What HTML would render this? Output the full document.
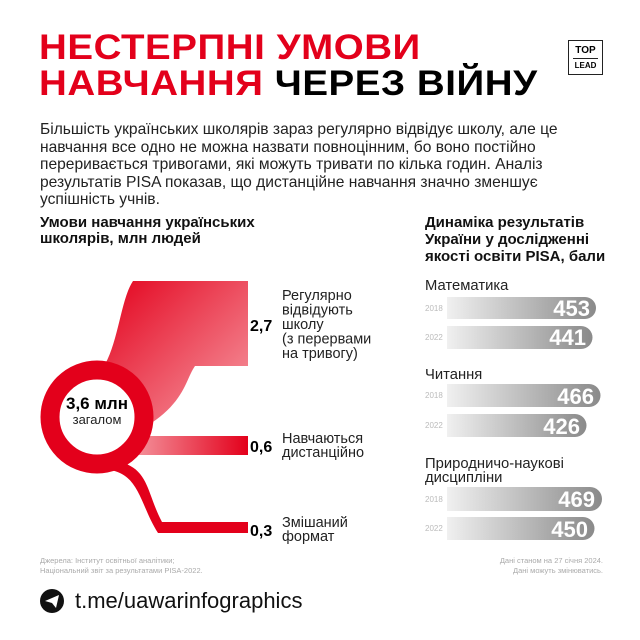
<!DOCTYPE html><html><head><meta charset="utf-8"><style>
body{margin:0;width:640px;height:640px;background:#fff;overflow:hidden;font-family:"Liberation Sans","DejaVu Sans",sans-serif;position:relative}
.a{position:absolute;white-space:nowrap}
</style></head><body>
<div class="a" style="left:39px;top:30px;font-size:35px;font-weight:900;line-height:36px;color:#e3001b;letter-spacing:0.5px;transform:scaleX(1.1);transform-origin:left">НЕСТЕРПНІ УМОВИ<br>НАВЧАННЯ <span style="color:#000">ЧЕРЕЗ ВІЙНУ</span></div>
<div class="a" style="left:568px;top:40px;width:33px;height:33px;border:1px solid #222;font-size:10px;font-weight:bold;text-align:center;line-height:13px">
<div style="margin-top:3px">TOP</div><div style="border-top:1px solid #222;margin:1px 4px 0;font-size:8px">LEAD</div></div>
<div class="a" style="left:40px;top:121px;font-size:15.6px;line-height:17.6px;color:#222">Більшість українських школярів зараз регулярно відвідує школу, але це<br>навчання все одно не можна назвати повноцінним, бо воно постійно<br>переривається тривогами, які можуть тривати по кілька годин. Аналіз<br>результатів PISA показав, що дистанційне навчання значно зменшує<br>успішність учнів.</div>
<div class="a" style="left:40px;top:215px;font-size:15px;font-weight:bold;line-height:15.5px;color:#111">Умови навчання українських<br>школярів, млн людей</div>
<div class="a" style="left:425px;top:214px;font-size:15px;font-weight:bold;line-height:17px;color:#111">Динаміка результатів<br>України у дослідженні<br>якості освіти PISA, бали</div>
<svg class="a" style="left:0;top:0" width="640" height="640">
<defs><linearGradient id="r" x1="0" y1="0" x2="1" y2="1"><stop offset="0" stop-color="#e3001b"/><stop offset="1" stop-color="#f7a0a8"/></linearGradient>
<linearGradient id="r2" x1="0" y1="0" x2="1" y2="0"><stop offset="0" stop-color="#f6a6ad"/><stop offset="1" stop-color="#e3001b"/></linearGradient>
<linearGradient id="g" x1="0" y1="0" x2="1" y2="0"><stop offset="0" stop-color="#f0f0f0"/><stop offset="1" stop-color="#8a8a8a"/></linearGradient></defs>
<path d="M100 372 C118 350 120 300 133 281 L248 281 L248 366 L195 366 C185 380 185 405 140 430 Z" fill="url(#r)"/>
<path d="M120 436 L248 436 L248 455 L120 455 Z" fill="url(#r2)"/>
<path d="M110 460 C150 465 145 490 162 522 L248 522 L248 533 L158 533 C140 505 140 475 110 470 Z" fill="#e3001b"/>
<circle cx="97" cy="417" r="47" fill="#fff" stroke="#e3001b" stroke-width="19"/>
<text x="97" y="409" text-anchor="middle" font-size="17" font-weight="bold">3,6 млн</text>
<text x="97" y="424" text-anchor="middle" font-size="13" fill="#222">загалом</text>
<g font-size="16" font-weight="bold"><text x="250" y="331">2,7</text><text x="250" y="452">0,6</text><text x="250" y="536">0,3</text></g>
<g font-size="14.5" fill="#222"><text x="282" y="300">Регулярно</text><text x="282" y="314.5">відвідують</text><text x="282" y="329">школу</text><text x="282" y="343.5">(з перервами</text><text x="282" y="358">на тривогу)</text>
<text x="282" y="443">Навчаються</text><text x="282" y="457">дистанційно</text><text x="282" y="527">Змішаний</text><text x="282" y="541">формат</text></g>
<g font-size="14.8" fill="#222"><text x="425" y="290">Математика</text><text x="425" y="379">Читання</text><text x="425" y="468">Природничо-наукові</text><text x="425" y="482">дисципліни</text></g>
<g fill="url(#g)">
<path d="M447 297 H585 A11 11 0 0 1 585 319 H447 Z"/>
<path d="M447 326 H581 A11.5 11.5 0 0 1 581 349 H447 Z"/>
<path d="M447 384 H589 A11.5 11.5 0 0 1 589 407 H447 Z"/>
<path d="M447 414 H575 A11.5 11.5 0 0 1 575 437 H447 Z"/>
<path d="M447 487 H590 A12 12 0 0 1 590 511 H447 Z"/>
<path d="M447 517 H583 A11.5 11.5 0 0 1 583 540 H447 Z"/></g>
<g font-size="8" fill="#bbb"><text x="425" y="311">2018</text><text x="425" y="340">2022</text><text x="425" y="398">2018</text><text x="425" y="428">2022</text><text x="425" y="502">2018</text><text x="425" y="531">2022</text></g>
<g font-size="22" font-weight="900" fill="#fff" text-anchor="end"><text x="590" y="316">453</text><text x="586" y="345">441</text><text x="594" y="404">466</text><text x="580" y="434">426</text><text x="595" y="507">469</text><text x="588" y="537">450</text></g>
<g font-size="7.5" fill="#aaa"><text x="40" y="563">Джерела: Інститут освітньої аналітики;</text><text x="40" y="573">Національний звіт за результатами PISA-2022.</text>
<text x="603" y="563" text-anchor="end">Дані станом на 27 січня 2024.</text><text x="603" y="573" text-anchor="end">Дані можуть змінюватись.</text></g>
<circle cx="52" cy="601" r="12" fill="#111"/><path d="M45 601 L59 595 L56 608 L52 603 Z" fill="#fff"/>
<text x="75" y="608" font-size="22" fill="#111">t.me/uawarinfographics</text>
</svg>
</body></html>
